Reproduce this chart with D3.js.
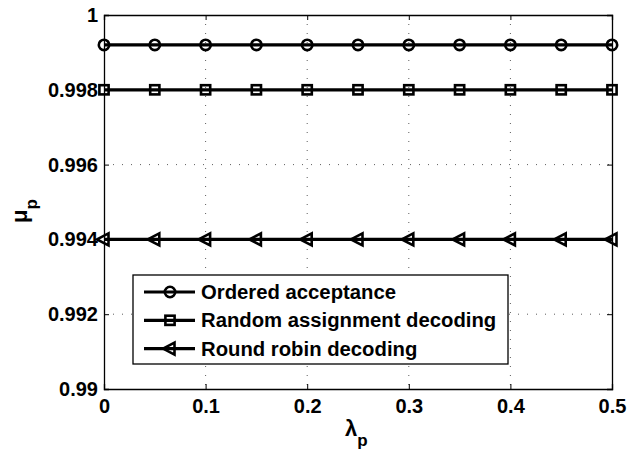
<!DOCTYPE html>
<html>
<head>
<meta charset="utf-8">
<script src="https://cdn.jsdelivr.net/npm/d3@7"></script>
<style>
  body { margin: 0; background: #fff; }
  text { font-family: "Liberation Sans", Arial, sans-serif; font-weight: bold; fill: #000; }
</style>
</head>
<body>
<div id="chart"></div>
<script>
    // data
    var lambda = [0, 0.05, 0.1, 0.15, 0.2, 0.25, 0.3, 0.35, 0.4, 0.45, 0.5];
    var ordered = [0.9992, 0.9992, 0.9992, 0.9992, 0.9992, 0.9992, 0.9992, 0.9992, 0.9992, 0.9992, 0.9992];
    var randomAssign = [0.998, 0.998, 0.998, 0.998, 0.998, 0.998, 0.998, 0.998, 0.998, 0.998, 0.998];
    var roundRobin = [0.994, 0.994, 0.994, 0.994, 0.994, 0.994, 0.994, 0.994, 0.994, 0.994, 0.994];
    var seriesNames = ['Ordered acceptance', 'Random assignment decoding', 'Round robin decoding'];
    var markers = ['circle', 'square', 'triangle'];
    var xTicks = [0, 0.1, 0.2, 0.3, 0.4, 0.5];
    var yTicks = [0.99, 0.992, 0.994, 0.996, 0.998, 1];
    var yTickLabels = ['0.99', '0.992', '0.994', '0.996', '0.998', '1'];

    var W = 632, H = 452;
    // plot box (matlab axes position)
    var mLeft = 104, mRight = 612, mTop = 15, mBottom = 389;

    var svg = d3.select('#chart').append('svg')
        .attr('width', W)
        .attr('height', H);

    var x = d3.scaleLinear().domain([0, 0.5]).range([mLeft, mRight]);
    var y = d3.scaleLinear().domain([0.99, 1]).range([mBottom, mTop]);

    // dotted grid
    var grid = svg.append('g')
        .attr('stroke', '#333')
        .attr('stroke-width', 0.8)
        .attr('stroke-dasharray', '1,8');
    grid.selectAll('.gx').data(xTicks.slice(1, -1)).enter().append('line')
        .attr('x1', d => x(d)).attr('x2', d => x(d))
        .attr('y1', mTop).attr('y2', mBottom);
    grid.selectAll('.gy').data(yTicks.slice(1, -1)).enter().append('line')
        .attr('y1', d => y(d)).attr('y2', d => y(d))
        .attr('x1', mLeft).attr('x2', mRight);

    // axes, ticks pointing inward like matlab
    var tickLen = 5;
    svg.append('g')
        .attr('transform', `translate(0,${mBottom})`)
        .call(d3.axisBottom(x).tickValues(xTicks).tickSize(-tickLen).tickPadding(10).tickFormat(d3.format('')))
        .call(g => g.selectAll('text').attr('font-size', 20).attr('font-family', null));
    svg.append('g')
        .attr('transform', `translate(0,${mTop})`)
        .call(d3.axisTop(x).tickValues(xTicks).tickSize(-tickLen).tickFormat(''));
    svg.append('g')
        .attr('transform', `translate(${mLeft},0)`)
        .call(d3.axisLeft(y).tickValues(yTicks).tickSize(-tickLen).tickPadding(6)
            .tickFormat((d, i) => yTickLabels[i]))
        .call(g => g.selectAll('text').attr('font-size', 20).attr('font-family', null));
    svg.append('g')
        .attr('transform', `translate(${mRight},0)`)
        .call(d3.axisRight(y).tickValues(yTicks).tickSize(-tickLen).tickFormat(''));

    svg.selectAll('.domain').attr('stroke', '#000').attr('stroke-width', 1.3);
    svg.selectAll('.tick line').attr('stroke', '#000').attr('stroke-width', 1);

    function drawMarker(g, type) {
        if (type === 'circle') {
            g.append('circle').attr('r', 5.2).attr('fill', 'none').attr('stroke', '#000').attr('stroke-width', 2.6);
        } else if (type === 'square') {
            g.append('rect').attr('x', -4.6).attr('y', -4.6).attr('width', 9.2).attr('height', 9.2)
                .attr('fill', 'none').attr('stroke', '#000').attr('stroke-width', 2.6);
        } else {
            g.append('path').attr('d', 'M-7,0L4.5,-6L4.5,6Z')
                .attr('fill', 'none').attr('stroke', '#000').attr('stroke-width', 2.6)
                .attr('stroke-linejoin', 'miter');
        }
    }

    var allSeries = [ordered, randomAssign, roundRobin];
    var line = d3.line().x((d, i) => x(lambda[i])).y(d => y(d));

    allSeries.forEach((vals, s) => {
        svg.append('path')
            .datum(vals)
            .attr('d', line)
            .attr('fill', 'none')
            .attr('stroke', '#000')
            .attr('stroke-width', 3.2);
        vals.forEach((v, i) => {
            var g = svg.append('g').attr('transform', `translate(${x(lambda[i])},${y(v)})`);
            drawMarker(g, markers[s]);
        });
    });

    // legend
    var leg = svg.append('g');
    leg.append('rect')
        .attr('x', 133).attr('y', 275).attr('width', 375).attr('height', 89)
        .attr('fill', '#fff').attr('stroke', '#000').attr('stroke-width', 1.3);
    seriesNames.forEach((name, i) => {
        var ry = 292 + i * 28.3;
        leg.append('line')
            .attr('x1', 144).attr('x2', 195).attr('y1', ry).attr('y2', ry)
            .attr('stroke', '#000').attr('stroke-width', 3.2);
        drawMarker(leg.append('g').attr('transform', `translate(170,${ry})`), markers[i]);
        leg.append('text')
            .attr('x', 201).attr('y', ry + 7)
            .attr('font-size', 20.3)
            .text(name);
    });

    // axis labels
    var xl = svg.append('text').attr('x', 345).attr('y', 436).attr('font-size', 22);
    xl.append('tspan').text('λ');
    xl.append('tspan').attr('dy', 10).attr('font-size', 17).text('p');

    var yl = svg.append('text')
        .attr('transform', 'translate(27,223) rotate(-90)')
        .attr('font-size', 22);
    yl.append('tspan').text('μ');
    yl.append('tspan').attr('dy', 10).attr('font-size', 17).text('p');
</script>
</body>
</html>
